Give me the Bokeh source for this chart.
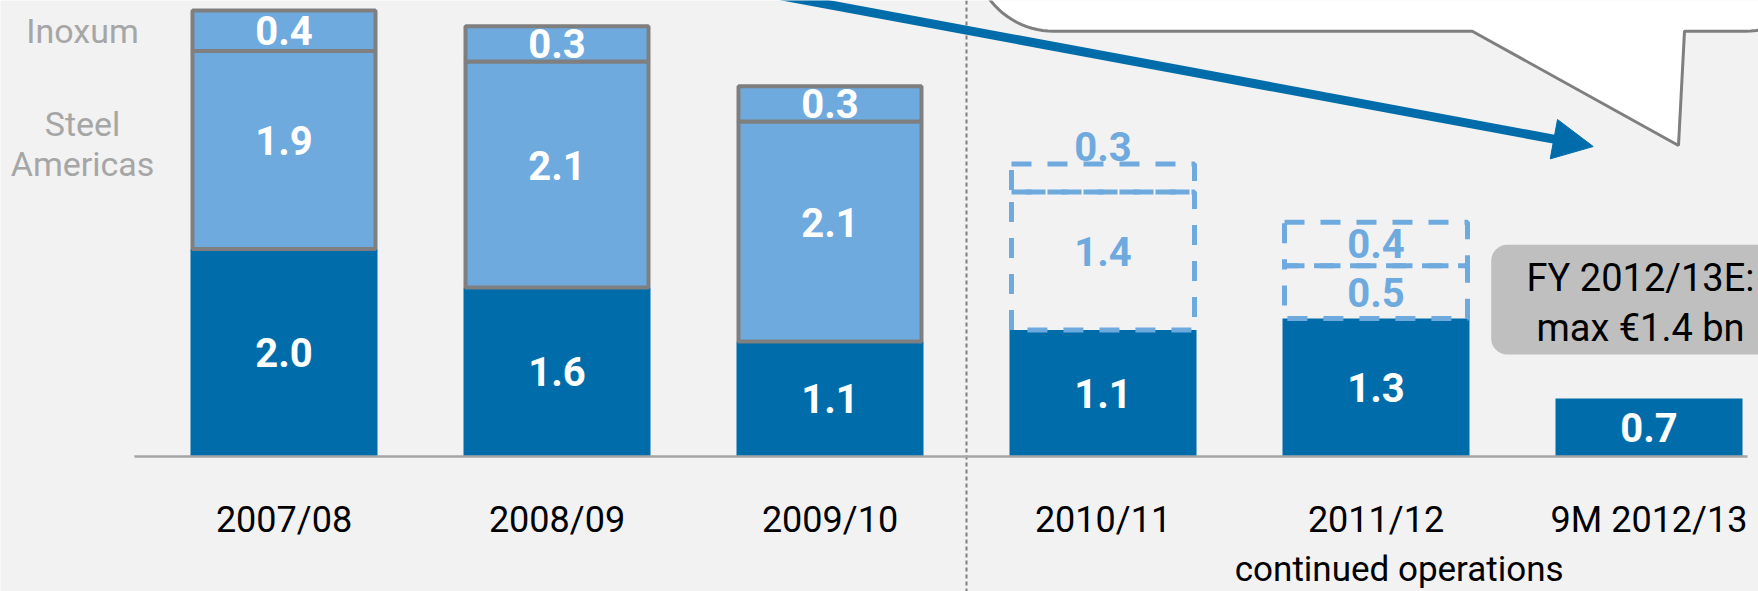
import numpy as np
from bokeh.plotting import figure
from bokeh.models import Range1d, Span, Arrow, NormalHead
from bokeh.core.properties import value
from bokeh.embed import file_html
from bokeh.resources import INLINE

# ---------------- data ----------------
categories = ["2007/08", "2008/09", "2009/10", "2010/11", "2011/12", "9M 2012/13"]
core_values = [2.00, 1.63, 1.11, 1.22, 1.33, 0.56]      # continued operations (dark)
steel_americas = [1.91, 2.18, 2.12, 1.33, 0.51, 0.0]
inoxum = [0.39, 0.34, 0.34, 0.27, 0.42, 0.0]
core_labels = ["2.0", "1.6", "1.1", "1.1", "1.3", "0.7"]
steel_labels = ["1.9", "2.1", "2.1", "1.4", "0.5", ""]
inoxum_labels = ["0.4", "0.3", "0.3", "0.3", "0.4", ""]
reported = [True, True, True, False, False, False]       # segments reported (solid) vs pro forma (dashed)
legend_labels = ["Inoxum", "Steel\nAmericas"]
group_label = "continued operations"
outlook_lines = ["FY 2012/13E:", "max €1.4 bn"]

# ---------------- styling / layout ----------------
BG = "#F2F2F2"
DARK = "#006DAA"
LIGHT = "#6FAADF"
GRAY = "#7F7F7F"
FONT = value("Roboto")

W, H = 1758, 591
PPX, PPY = 273.0, 103.7          # pixels per data unit
X0, Y0 = 283.5, 456.0            # pixel position of x=0 (from left) and y=0 (from top)
BAR_W = 0.685


def fx(X):  # picture pixel -> data x (for annotation shapes)
    return (X - X0) / PPX


def fy(Y):
    return (Y0 - Y) / PPY


n = len(categories)
xs = np.arange(n, dtype=float)
core = np.array(core_values)
steel = np.array(steel_americas)
inox = np.array(inoxum)
rep = np.array(reported)
has_seg = steel > 0

p = figure(width=W, height=H,
           x_range=Range1d(-X0 / PPX, (W - X0) / PPX),
           y_range=Range1d(-(H - Y0) / PPY, Y0 / PPY),
           output_backend="svg", toolbar_location=None, tools="",
           x_axis_location=None, y_axis_location=None, min_border=0,
           background_fill_color=BG, border_fill_color=BG, outline_line_color=None)
p.grid.visible = False

# separator between reported and continued-operations periods
sep_x = (xs[rep].max() + xs[~rep].min()) / 2
p.add_layout(Span(location=sep_x, dimension="height", line_color=GRAY,
                  line_width=2, line_dash="4 3", level="underlay"))

# dark bars
p.vbar(x=xs, bottom=0, top=core, width=BAR_W, fill_color=DARK, line_color=None)

# solid (reported) segments
sel = rep & has_seg
inner_w = BAR_W - 4 / PPX
p.vbar(x=xs[sel], bottom=core[sel], top=(core + steel)[sel], width=inner_w,
       fill_color=LIGHT, line_color=GRAY, line_width=4)
p.vbar(x=xs[sel], bottom=(core + steel)[sel], top=(core + steel + inox)[sel], width=inner_w,
       fill_color=LIGHT, line_color=GRAY, line_width=4)

# dashed (pro forma) segments
sel_d = (~rep) & has_seg
p.vbar(x=xs[sel_d], bottom=core[sel_d], top=(core + steel)[sel_d], width=inner_w,
       fill_alpha=0, line_color=LIGHT, line_width=5, line_dash="20 16")
p.vbar(x=xs[sel_d], bottom=(core + steel)[sel_d], top=(core + steel + inox)[sel_d], width=inner_w,
       fill_alpha=0, line_color=LIGHT, line_width=5, line_dash="20 16")

# baseline
p.segment(x0=[xs[0] - 0.548], x1=[xs[-1] + 0.361], y0=[0], y1=[0],
          line_color="#A6A6A6", line_width=2.5)

# value labels
lab_kw = dict(text_align="center", text_baseline="middle", text_font=FONT,
              text_font_size="40px", text_font_style="bold")
p.text(x=xs, y=core / 2, text=core_labels, text_color="white", **lab_kw)

steel_mid = core + steel / 2
steel_y = np.where(steel > 1, steel_mid + 0.09, steel_mid)
inox_mid = core + steel + inox / 2
inox_y = np.where(inox < 0.3, core + steel + inox + 0.17, inox_mid)
p.text(x=xs[sel], y=steel_y[sel], text=list(np.array(steel_labels)[sel]), text_color="white", **lab_kw)
p.text(x=xs[sel], y=inox_y[sel], text=list(np.array(inoxum_labels)[sel]), text_color="white", **lab_kw)
p.text(x=xs[sel_d], y=steel_y[sel_d], text=list(np.array(steel_labels)[sel_d]), text_color=LIGHT, **lab_kw)
p.text(x=xs[sel_d], y=inox_y[sel_d], text=list(np.array(inoxum_labels)[sel_d]), text_color=LIGHT, **lab_kw)

# segment legend on the left, aligned with first bar's segments
p.text(x=[xs[0] - 0.738] * 2, y=[inox_mid[0], steel_mid[0] + 0.055], text=legend_labels,
       text_align="center", text_baseline="middle", text_font=FONT, text_font_size="34px",
       text_color="#A6A6A6", text_line_height=1.0)

# category labels
p.text(x=xs, y=[fy(519)] * n, text=categories, text_align="center", text_baseline="middle",
       text_font=FONT, text_font_size="36px", text_color="black")

# continued operations group label
p.text(x=[xs[~rep].mean() + 0.085], y=[fy(569)], text=[group_label], text_align="center",
       text_baseline="middle", text_font=FONT, text_font_size="35px", text_color="black")

# FY outlook box
p.quad(left=[xs[-1] - 0.578], right=[xs[-1] + 0.52], bottom=[fy(354)], top=[fy(244.3)],
       fill_color="#BFBFBF", line_color=None, border_radius=16)
p.text(x=[xs[-1] - 0.031] * 2, y=[fy(277), fy(327)], text=outlook_lines,
       text_align="center", text_baseline="middle", text_font=FONT,
       text_font_size="38px", text_color="black")

# speech bubble (cut off at top)
r = 80.0
t = np.linspace(0, np.pi / 2, 24)
bx = list(1053 - r * np.cos(t)) + [1471.8, 1678, 1684] + list(1745 + r * np.cos(t[::-1])) + [1825, 973]
by = list(-49.3 + r * np.sin(t)) + [30.7, 145, 30.7] + list(-49.3 + r * np.sin(t[::-1])) + [-90, -90]
p.patch(x=[fx(v) for v in bx], y=[fy(v) for v in by], fill_color="white",
        line_color=GRAY, line_width=3)

# blue arrow
slope = 0.18558
p.segment(x0=[fx(700)], y0=[fy(slope * (700 - 806))], x1=[fx(1556)], y1=[fy(slope * (1556 - 806))],
          line_color=DARK, line_width=9)
p.add_layout(Arrow(x_start=fx(1500), y_start=fy(slope * (1500 - 806)),
                   x_end=fx(1592.7), y_end=fy(146), line_alpha=0,
                   end=NormalHead(size=40, fill_color=DARK, line_color=DARK, line_width=1)))

open("out.html", "w").write(file_html(p, INLINE))
